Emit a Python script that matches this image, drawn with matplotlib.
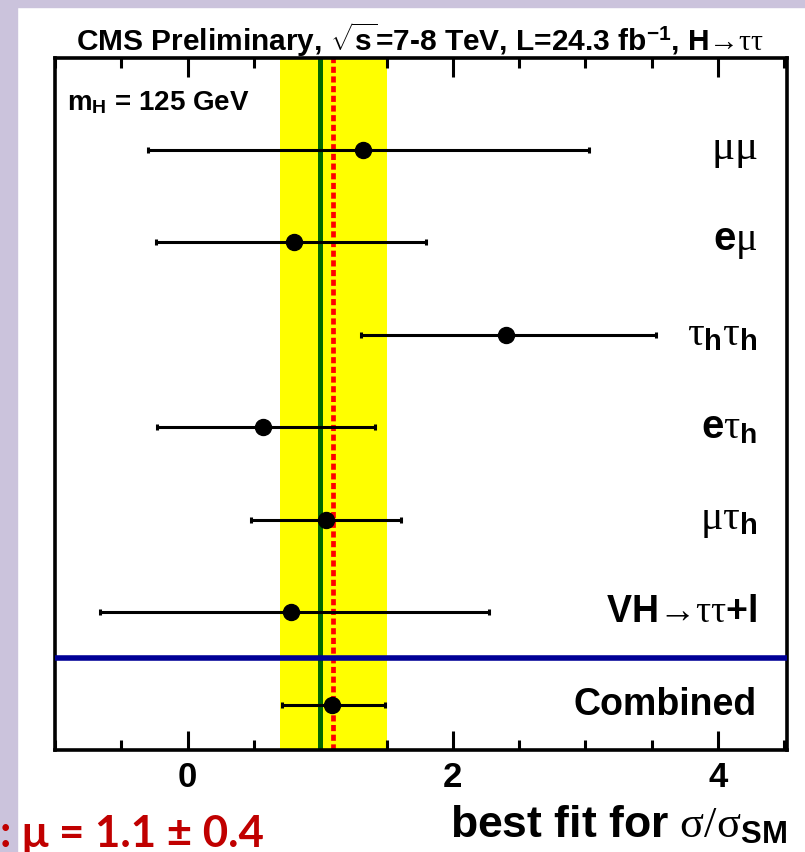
import numpy as np
import matplotlib
matplotlib.use('Agg')
import matplotlib.pyplot as plt
from matplotlib.patches import Rectangle
from matplotlib.ticker import MultipleLocator

plt.rcParams['font.family'] = ['Liberation Sans', 'DejaVu Sans']
plt.rcParams['mathtext.fontset'] = 'custom'
plt.rcParams['mathtext.rm'] = 'Liberation Serif:normal'
plt.rcParams['mathtext.it'] = 'Liberation Serif:normal'
plt.rcParams['mathtext.bf'] = 'Liberation Sans:bold'

# channels, top to bottom
channels = [r'$\mu\mu$', r'$\mathbf{e}\mu$', r'$\tau_{\mathbf{h}}\tau_{\mathbf{h}}$',
            r'$\mathbf{e}\tau_{\mathbf{h}}$', r'$\mu\tau_{\mathbf{h}}$',
            'VH$\u2192\\tau\\tau$+l', 'Combined']
label_sizes = [31, 29, 30, 29, 30, 27, 27]
mu_best = [1.32, 0.80, 2.40, 0.57, 1.04, 0.78, 1.09]
mu_lo = [-0.30, -0.24, 1.31, -0.23, 0.48, -0.66, 0.71]
mu_hi = [3.03, 1.80, 3.53, 1.41, 1.61, 2.27, 1.49]

comb_mu = 1.1
comb_err = 0.4
sm_mu = 1.0

ypos = np.arange(len(channels))[::-1]
xerr = [np.array(mu_best) - np.array(mu_lo), np.array(mu_hi) - np.array(mu_best)]

fig = plt.figure(figsize=(8.05, 8.52), dpi=100)
fig.patch.set_facecolor('white')
lav = '#cbc3dc'
fig.patches.append(Rectangle((0, 0), 17/805, 1, transform=fig.transFigure, color=lav, zorder=0))
fig.patches.append(Rectangle((0, 1-7/852), 1, 7/852, transform=fig.transFigure, color=lav, zorder=0))

ax = fig.add_axes([55/805, 1-750/852, 732/805, 692/852])
ax.axvspan(comb_mu - comb_err, comb_mu + comb_err, color='#ffff00', zorder=1, lw=0)
ax.axvline(sm_mu, color='#006600', lw=3.6, zorder=2)
ax.axvline(comb_mu, color='#ff0000', lw=3.4, linestyle=(0, (1.3, 0.75)), zorder=2.1)
ax.errorbar(mu_best, ypos, xerr=xerr, fmt='o', color='black', ms=11.5, elinewidth=2.2,
            capsize=2.5, capthick=2.2, zorder=3)
ax.axhline(0.5, color='#000096', lw=4, zorder=4)

for y, lab, fs in zip(ypos, channels, label_sizes):
    ax.text(0.959, y, lab, transform=ax.get_yaxis_transform(), ha='right', va='center',
            fontsize=fs, fontweight='bold')

ax.text(0.016, 0.925, r'$\mathbf{m}_{\mathbf{H}}$ = 125 GeV', transform=ax.transAxes,
        fontsize=20, fontweight='bold', va='baseline')

ax.set_xlim(-1.0, 4.52)
ax.set_ylim(-0.49, 6.99)
ax.xaxis.set_major_locator(MultipleLocator(2))
ax.xaxis.set_minor_locator(MultipleLocator(0.5))
ax.tick_params(axis='x', which='both', direction='in', top=True, bottom=True, width=2.2)
ax.tick_params(axis='x', which='major', length=14, labelsize=25, pad=8)
ax.tick_params(axis='x', which='minor', length=7)
ax.set_yticks([])
for lbl in ax.get_xticklabels():
    lbl.set_fontweight('bold')
for s in ax.spines.values():
    s.set_linewidth(2.6)

fig.text(0.522, 1-40/852, 'CMS Preliminary, $\\sqrt{\\mathbf{s}}$=7-8 TeV, L=24.3 fb$^{\\mathbf{-1}}$, H$\u2192\\tau\\tau$',
         ha='center', va='center', fontsize=21.5, fontweight='bold')
fig.text(787/805, 1-837/852, r'best fit for $\sigma/\sigma_{\mathbf{SM}}$', ha='right', va='baseline',
         fontsize=32, fontweight='bold')
fig.text(0.0, 1-847/852, ': \u03bc = 1.1 \u00b1 0.4', ha='left', va='baseline', fontsize=31.5,
         fontweight='bold', color='#c00000', family=['Lato', 'DejaVu Sans'])

fig.savefig('out.png', dpi=100)
